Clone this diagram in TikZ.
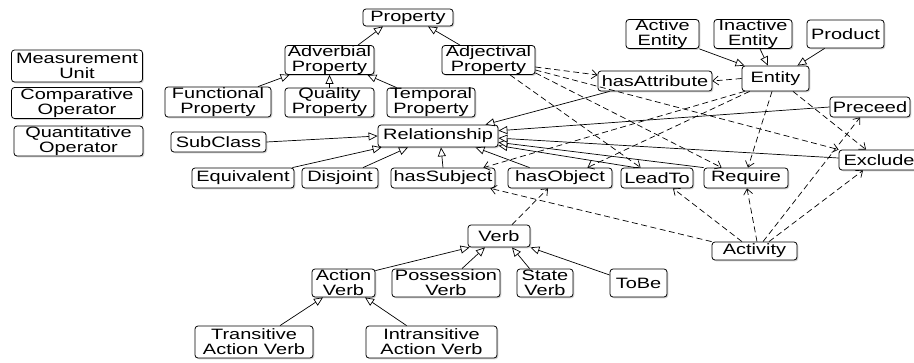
\documentclass[tikz,border=0pt]{standalone}
\usepackage{fontspec}
\setmainfont{Liberation Sans}[FakeStretch=1.33]
\usetikzlibrary{arrows.meta,shadows}
\begin{document}
\begin{tikzpicture}[x=1pt,y=-1pt,
  box/.style={draw, rounded corners=3pt, fill=white, align=center, inner xsep=2pt, inner ysep=0pt,
    font=\fontsize{15}{15}\selectfont, line width=0.8pt,
    drop shadow={opacity=0.35, shadow xshift=1.3pt, shadow yshift=-1.3pt}},
  gen/.style={-{Triangle[fill=white,length=9pt,width=8pt]}, line width=0.7pt},
  dep/.style={-{Straight Barb[length=5.5pt,width=9pt]}, line width=0.7pt, dash pattern=on 6pt off 3.5pt}
]
\useasboundingbox (0,0) rectangle (914,362);
% left column
\node[box, minimum width=131pt, minimum height=32pt] (mu) at (77,66) {Measurement\\Unit};
\node[box, minimum width=131pt, minimum height=31pt] (co) at (77,103) {Comparative\\Operator};
\node[box, minimum width=129pt, minimum height=30pt] (qo) at (78.5,141) {Quantitative\\Operator};
% property
\node[box, minimum width=90pt, minimum height=17pt] (prop) at (408,17.5) {Property};
\node[box, minimum width=89pt, minimum height=28pt] (adv) at (329.5,60) {Adverbial\\Property};
\node[box, minimum width=93pt, minimum height=28pt] (adj) at (488.5,60) {Adjectival\\Property};
\node[box, minimum width=106pt, minimum height=30pt] (func) at (218,102) {Functional\\Property};
\node[box, minimum width=89pt, minimum height=29pt] (qual) at (329.5,102.5) {Quality\\Property};
\node[box, minimum width=88pt, minimum height=29pt] (temp) at (431,102.5) {Temporal\\Property};
% relationship
\node[box, minimum width=95pt, minimum height=20pt] (sub) at (218.5,142) {SubClass};
\node[box, minimum width=120pt, minimum height=22pt] (rel) at (438,136) {Relationship};
\node[box, minimum width=102pt, minimum height=20pt] (equ) at (243,178) {Equivalent};
\node[box, minimum width=76pt, minimum height=20pt] (dis) at (340,178) {Disjoint};
\node[box, minimum width=104pt, minimum height=20pt] (hsub) at (443,178) {hasSubject};
\node[box, minimum width=104pt, minimum height=20pt] (hobj) at (560,178) {hasObject};
\node[box, minimum width=72pt, minimum height=20pt] (lead) at (657,178) {LeadTo};
\node[box, minimum width=84pt, minimum height=20pt] (req) at (746,178) {Require};
% entity
\node[box, minimum width=73pt, minimum height=28pt] (act) at (662.5,34) {Active\\Entity};
\node[box, minimum width=78pt, minimum height=28pt] (inact) at (753,34) {Inactive\\Entity};
\node[box, minimum width=77pt, minimum height=28pt] (prod) at (845.5,34) {Product};
\node[box, minimum width=67pt, minimum height=25pt] (ent) at (775.5,78.5) {Entity};
\node[box, minimum width=114pt, minimum height=20pt] (hatt) at (655,81) {hasAttribute};
\node[box, minimum width=80pt, minimum height=20pt] (prec) at (870,107) {Preceed};
\node[box, minimum width=80pt, minimum height=20pt] (excl) at (879,160) {Exclude};
% verb
\node[box, minimum width=62pt, minimum height=22pt] (verb) at (499,236) {Verb};
\node[box, minimum width=63pt, minimum height=28pt] (av) at (343.5,283) {Action\\Verb};
\node[box, minimum width=108pt, minimum height=28pt] (pv) at (446,283) {Possession\\Verb};
\node[box, minimum width=56pt, minimum height=28pt] (sv) at (545,283) {State\\Verb};
\node[box, minimum width=57pt, minimum height=28pt] (tobe) at (638.5,283) {ToBe};
\node[box, minimum width=85pt, minimum height=18pt] (activ) at (754.5,251) {Activity};
\node[box, minimum width=118pt, minimum height=32pt] (tav) at (254,342) {Transitive\\Action Verb};
\node[box, minimum width=131pt, minimum height=32pt] (iav) at (431.5,342) {Intransitive\\Action Verb};
% generalizations
\draw[gen] ([xshift=28.5pt]adv.north) -- ([xshift=-25pt]prop.south);
\draw[gen] ([xshift=-28.5pt]adj.north) -- ([xshift=20pt]prop.south);
\draw[gen] ([xshift=40pt]func.north) -- ([xshift=5pt]adv.south west);
\draw[gen] (qual.north) -- (adv.south);
\draw[gen] ([xshift=10pt]temp.north west) -- ([xshift=-7pt]adv.south east);
\draw[gen] (sub.east) -- (rel.west);
\draw[gen] ([xshift=-2pt]equ.north east) -- ([xshift=4pt]rel.south west);
\draw[gen] ([xshift=23pt]dis.north) -- ([xshift=-30pt]rel.south);
\draw[gen] (hsub.north) -- ([xshift=3pt]rel.south);
\draw[gen] ([xshift=22pt]hobj.north west) -- ([xshift=-23pt]rel.south east);
\draw[gen] ([xshift=15pt]lead.north west) -- (rel.-9.9);
\draw[gen] (req.north west) -- (rel.-6.7);
\draw[gen] ([yshift=2pt]excl.west) -- (rel.-2.9);
\draw[gen] (prec.west) -- (rel.5.7);
\draw[gen] ([xshift=12pt]hatt.south west) -- ([xshift=-13pt]rel.north east);
\draw[gen] ([yshift=-2pt]av.north east) -- ([xshift=2pt]verb.south west);
\draw[gen] ([xshift=16pt]pv.north) -- ([xshift=-14pt]verb.south);
\draw[gen] ([xshift=13pt]sv.north west) -- ([xshift=13pt]verb.south);
\draw[gen] ([yshift=8pt]tobe.west) -- (verb.south east);
\draw[gen] ([xshift=26pt]tav.north) -- ([xshift=-20.5pt]av.south);
\draw[gen] ([xshift=41pt]iav.north west) -- ([xshift=21.5pt]av.south);
\draw[gen] (act.south east) -- ([xshift=3pt]ent.north west);
\draw[gen] ([xshift=7pt]inact.south) -- ([xshift=-7.5pt]ent.north);
\draw[gen] ([xshift=18pt]prod.south west) -- ([xshift=-12pt]ent.north east);
% dependencies
\draw[dep] ([yshift=-7pt]adj.east) -- ([yshift=6pt]hatt.west);
\draw[dep] ([yshift=-10pt]adj.east) -- (excl.north west);
\draw[dep] ([yshift=2pt]adj.south east) -- ([xshift=18pt]req.north west);
\draw[dep] ([xshift=21.5pt]adj.south) -- ([xshift=20pt]lead.north west);
\draw[dep] (ent.west) -- (hatt.east);
\draw[dep] ([xshift=3pt]ent.south west) -- ([xshift=-12pt]hsub.north east);
\draw[dep] ([xshift=8pt]ent.south west) -- ([xshift=-25pt]hobj.north east);
\draw[dep] ([xshift=-3.5pt]ent.south) -- ([xshift=2pt]req.north);
\draw[dep] ([xshift=17.5pt]ent.south) -- ([xshift=-13pt]excl.north);
\draw[dep] (activ.north west) -- ([xshift=-5pt]hsub.south east);
\draw[dep] ([xshift=-12.5pt]activ.north) -- ([xshift=16pt]lead.south);
\draw[dep] ([xshift=2.5pt]activ.north) -- ([xshift=1pt]req.south);
\draw[dep] ([xshift=8.5pt]activ.north) -- ([xshift=-10pt]prec.south);
\draw[dep] ([xshift=14.5pt]activ.north) -- ([xshift=-16pt]excl.south);
\draw[dep] ([xshift=13pt]verb.north) -- ([xshift=-12pt]hobj.south);
\end{tikzpicture}
\end{document}
